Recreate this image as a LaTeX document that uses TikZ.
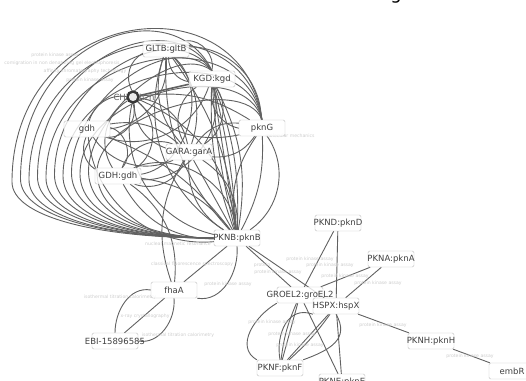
\documentclass[tikz,border=0pt]{standalone}
\usepackage{fontspec}
\setmainfont{DejaVu Sans}
\usetikzlibrary{calc,backgrounds}
\newcommand{\protlbl}[1]{\makebox[40pt]{#1}}

\begin{document}
\begin{tikzpicture}[x=1pt,y=1pt]
\tikzset{
  prot/.style={draw=black!25, fill=white, fill opacity=0.8, text opacity=1,
    rounded corners=1.5pt, text=black!75, font=\fontsize{8.5}{9}\selectfont,
    inner xsep=3pt, inner ysep=0pt, minimum height=16pt},
  lien/.style={draw=black!62, line width=0.9pt},
  etiq/.style={text=black!20, font=\fontsize{4.6}{5}\selectfont, inner sep=0pt},
  hub/.style={draw=black!78, line width=2.4pt, circle, fill=black!8, minimum size=11pt, inner sep=0pt}
}
\useasboundingbox (0,0) rectangle (526,-380);
\clip (0,0) rectangle (526,-380);

% title, cut by the top border
\node[font=\fontsize{18}{18}\selectfont, anchor=base, inner sep=0pt] (titre) at (396,0.5) {g};

% edge labels
\node[etiq] (e1) at (55,-55) {protein kinase assay};
\node[etiq] (e2) at (62,-63) {comigration in non denaturing gel electrophoresis};
\node[etiq] (e3) at (85,-71) {affinity chromatography technology};
\node[etiq] (e4) at (90,-80) {protein kinase assay};
\node[etiq] (e5) at (178,-244) {nuclear magnetic resonance};
\node[etiq] (e6) at (192,-264) {classical fluorescence spectroscopy};
\node[etiq] (e7) at (228,-284) {protein kinase assay};
\node[etiq] (e8) at (120,-297) {isothermal titration calorimetry};
\node[etiq] (e9) at (145,-316) {x-ray crystallography};
\node[etiq] (e10) at (178,-335) {isothermal titration calorimetry};
\node[etiq] (e11) at (310,-259) {protein kinase assay};
\node[etiq] (e12) at (330,-265) {protein kinase assay};
\node[etiq] (e13) at (278,-272) {protein kinase assay};
\node[etiq] (e14) at (345,-276) {protein kinase assay};
\node[etiq] (e15) at (378,-283) {protein kinase assay};
\node[etiq] (e16) at (383,-325) {protein kinase assay};
\node[etiq] (e17) at (470,-356) {protein kinase assay};
\node[etiq] (e18) at (272,-322) {protein kinase assay};
\node[etiq] (e19) at (292,-334) {protein kinase assay};
\node[etiq] (e20) at (300,-345) {protein kinase assay};
\node[etiq] (e21) at (262,-265) {protein};
\node[etiq] (e22) at (290,-136) {molecular mechanics};

% proteins
\node[prot] (GLTB) at (166,-49) {\protlbl{GLTB:gltB}};
\node[prot] (KGD) at (212,-79) {\protlbl{KGD:kgd}};
\node[text=black!60, font=\fontsize{8.5}{9}\selectfont] (CHZlbl) at (134,-97) {CHZ:chzn};
\node[hub] (CHZ) at (133,-97) {};
\node[prot] (gdh) at (87,-129) {\protlbl{gdh}};
\node[prot] (pknG) at (262,-128) {\protlbl{pknG}};
\node[prot] (GARA) at (189,-152) {\protlbl{GARA:garA}};
\node[prot] (GDH) at (118,-176) {\protlbl{GDH:gdh}};
\node[prot] (PKNB) at (237,-238) {\protlbl{PKNB:pknB}};
\node[prot] (fhaA) at (174,-290) {\protlbl{fhaA}};
\node[prot] (EBI) at (115,-341) {\protlbl{EBI-15896585}};
\node[prot] (PKND) at (338,-223) {\protlbl{PKND:pknD}};
\node[prot] (PKNA) at (391,-259) {\protlbl{PKNA:pknA}};
\node[prot] (GROEL2) at (300,-295) {\protlbl{GROEL2:groEL2}};
\node[prot] (HSPX) at (336,-306) {\protlbl{HSPX:hspX}};
\node[prot] (PKNH) at (431,-341) {\protlbl{PKNH:pknH}};
\node[prot] (embR) at (512,-371) {\protlbl{embR}};
\node[prot] (PKNF) at (280,-368) {\protlbl{PKNF:pknF}};
\node[prot] (PKNE) at (342,-382) {\protlbl{PKNE:pknE}};

\begin{pgfonlayer}{background}
% big loops round the left
\foreach \i in {0,2,...,10} {
  \pgfmathsetmacro{\xl}{12+8.5*\i}
  \pgfmathsetmacro{\yl}{-182+\i}
  \pgfmathsetmacro{\ca}{(213-\xl)*0.6}
  \pgfmathsetmacro{\cb}{(238+\yl)*0.6}
  \pgfmathsetmacro{\ch}{178-12*\i}
  \draw[lien] (PKNB.west) .. controls +(-\ca,0) and +(0,-\cb) .. (\xl,\yl)
    .. controls +(0,\ch) and +(-18,0.8*\ch) .. (pknG.north);
}
\foreach \i in {1,3,...,9} {
  \pgfmathsetmacro{\xl}{12+8.5*\i}
  \pgfmathsetmacro{\yl}{-180+\i}
  \pgfmathsetmacro{\ca}{(213-\xl)*0.6}
  \pgfmathsetmacro{\cb}{(238+\yl)*0.6}
  \pgfmathsetmacro{\ch}{150-11*\i}
  \draw[lien] (PKNB.west) .. controls +(-\ca,0) and +(0,-\cb) .. (\xl,\yl)
    .. controls +(0,\ch) and +(-40,0.6*\ch) .. (KGD.north);
}
% the cluster
\foreach \a/\b/\c in {KGD/PKNB/0, KGD/PKNB/5, KGD/PKNB/-5, KGD/PKNB/11, KGD/PKNB/-11, KGD/PKNB/18,
    GLTB/PKNB/-22, GLTB/PKNB/-38, GLTB/PKNB/15, GARA/PKNB/30, GARA/PKNB/-30, GARA/PKNB/0,
    pknG/PKNB/15, pknG/PKNB/-22, pknG/PKNB/45, CHZ/PKNB/-45, CHZ/PKNB/30,
    gdh/PKNB/-45, gdh/PKNB/15, GDH/PKNB/-30, GDH/PKNB/22, GDH/PKNB/55,
    GARA/GLTB/30, GARA/GLTB/-30, GARA/KGD/45, GARA/KGD/-45, GARA/pknG/30, GARA/pknG/-30,
    GARA/CHZ/35, GARA/CHZ/-35, GARA/gdh/40, GARA/gdh/-25, GARA/GDH/45, GARA/GDH/-45,
    CHZ/GLTB/45, CHZ/GDH/55, CHZ/GDH/-45, CHZ/gdh/55, CHZ/gdh/-40,
    gdh/KGD/-45, gdh/GLTB/-45, GDH/KGD/-55, GDH/GLTB/-65, gdh/GDH/60, gdh/GDH/-40,
    pknG/KGD/45, pknG/GLTB/-45, pknG/CHZ/30, pknG/CHZ/-20, GLTB/KGD/55, GLTB/KGD/-40,
    fhaA/GARA/25, fhaA/GDH/-30}
  \draw[lien] (\a) to[bend left=\c] (\b);
\draw[lien, line width=1.6pt] (CHZ) -- (KGD);
% lower part
\draw[lien] (PKNB) -- (GROEL2);
\draw[lien] (PKNB) -- (HSPX);
\draw[lien] (PKNB) -- (fhaA);
\draw[lien] (PKNB.south) to[out=-85, in=-10] (fhaA.south east);
\draw[lien] (fhaA) -- (EBI);
\draw[lien] (fhaA.west) to[out=170, in=90] (EBI.north);
\draw[lien] (fhaA.south) to[out=-85, in=-10] (EBI.east);
\draw[lien] (PKND) -- (GROEL2);
\draw[lien] (PKND) -- (HSPX);
\draw[lien] (PKNA) -- (GROEL2);
\draw[lien] (PKNA) -- (HSPX);
\draw[lien] (HSPX) -- (PKNH);
\draw[lien] (PKNH) -- (embR);
\draw[lien] (HSPX) -- (PKNE);
\draw[lien] (GROEL2) -- (PKNE);
\draw[lien] (PKNF) -- (GROEL2);
\draw[lien] (PKNF) to[bend left=8] (GROEL2);
\draw[lien] (PKNF.north west) to[out=150, in=210, looseness=1.1] (GROEL2.south west);
\draw[lien] (PKNF) -- (HSPX);
\draw[lien] (PKNF) to[bend right=6] (HSPX);
\draw[lien] (PKNF.north) to[out=100, in=160, looseness=1.2] (HSPX.south west);
\draw[lien] (PKNF.north east) to[out=20, in=-60, looseness=1.3] (HSPX.south);
\end{pgfonlayer}
\end{tikzpicture}
\end{document}
